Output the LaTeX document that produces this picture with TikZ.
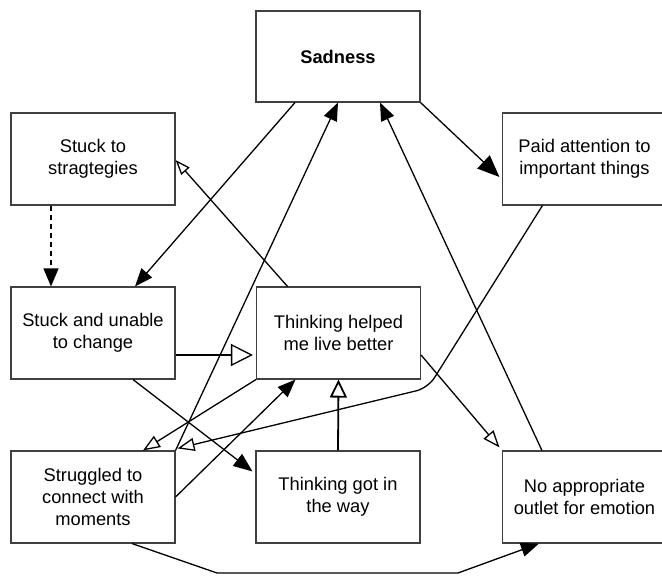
\documentclass[tikz,border=0pt]{standalone}
\usepackage{fontspec}
\setmainfont{Liberation Sans}
\usetikzlibrary{arrows.meta,calc}
\begin{document}
\begin{tikzpicture}[x=1pt,y=-1pt,
  box/.style={draw=black!75, line width=1.1pt, minimum width=164pt, minimum height=92pt, inner sep=0pt, align=center, font=\fontsize{18.3}{21.6}\selectfont},
  con/.style={line width=1.3pt, draw=black},
  fa/.style={-{Triangle[length=18pt,width=14pt]}},
  oa/.style={-{Triangle[length=17pt,width=13pt,fill=white]}},
]
\useasboundingbox (0,0) rectangle (662,577);
\clip (0,0) rectangle (662,577);
\node[box, minimum height=91pt] (sad) at (338,56.5) {\textbf{Sadness}};
\node[box] (sts) at (93,159) {Stuck to\\stragtegies};
\node[box] (paid) at (584.5,159) {Paid attention to\\important things};
\node[box] (sun) at (93,333) {Stuck and unable\\to change};
\node[box] (thh) at (338.5,333) {Thinking helped\\me live better};
\node[box] (str) at (93,497) {Struggled to\\connect with\\moments};
\node[box] (tgw) at (338,497) {Thinking got in\\the way};
\node[box] (noa) at (584.5,497) {No appropriate\\outlet for emotion};
\coordinate (bend) at (428,388);
\coordinate (low1) at (217,573);
\coordinate (low2) at (458,573);
% connectors
\draw[con,fa] ($(sad.south)+(-43,0)$) -- ($(sun.north)+(42,0)$);
\draw[con,fa] (str.north east) -- (sad.south);
\draw[con,fa] ($(noa.north west)+(40,0)$) -- ($(sad.south)+(42,0)$);
\draw[con,-{Triangle[length=22pt,width=18pt]}] (sad.south east) -- ($(paid.west)+(-2.5,18)$);
\draw[con,dash pattern=on 5pt off 4pt,-{Triangle[length=18pt,width=15pt]}] ($(sts.south)+(-42,0)$) -- ($(sun.north)+(-42,0)$);
\draw[con,-{Triangle[length=15pt,width=11pt,fill=white]}] ($(thh.north)+(-51,0)$) -- ($(sts.east)+(0,1)$);
\draw[con,oa,rounded corners=12pt] ($(paid.south west)+(40.5,0)$) -- (bend) -- ($(str.north east)+(2,-2)$);
\draw[con,-{Triangle[length=22pt,width=22pt,fill=white]}] ($(sun.east)+(0,22)$) -- ($(thh.west)+(-3,22)$);
\draw[con,-{Triangle[length=19pt,width=15pt]}] ($(sun.south)+(40,0)$) -- ($(tgw.north west)+(-3,21)$);
\draw[con,oa] (thh.south west) -- ($(str.north)+(50,0)$);
\draw[con,fa] (str.east) -- ($(thh.south)+(-43,0)$);
\draw[con,line width=1.8pt,-{Triangle[length=18pt,width=17pt,fill=white]}] (tgw.north) -- (thh.south);
\draw[con,oa] ($(thh.east)+(0,22)$) -- ($(noa.north west)+(-2.5,-3)$);
\draw[con,fa] ($(str.south)+(39,0)$) -- (low1) -- (low2) -- ($(noa.south west)+(37,0)$);
\end{tikzpicture}
\end{document}
